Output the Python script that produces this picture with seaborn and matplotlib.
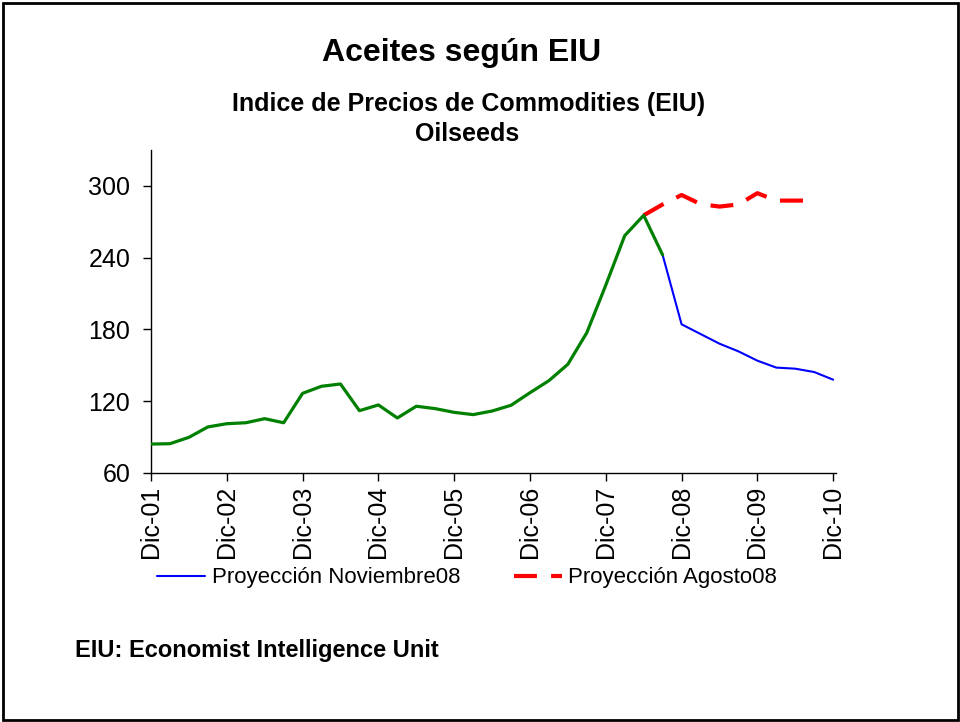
import numpy as np
import pandas as pd
import matplotlib
matplotlib.use("Agg")
import matplotlib.pyplot as plt
from matplotlib.lines import Line2D
from matplotlib.patches import Rectangle
import seaborn as sns

# quarterly index, Dic-01 = 0 ... Dic-10 = 36
tick_labels = ["Dic-01", "Dic-02", "Dic-03", "Dic-04", "Dic-05",
               "Dic-06", "Dic-07", "Dic-08", "Dic-09", "Dic-10"]

# history Dic-01 .. Sep-08
historia = [84.2, 84.5, 89.8, 98.5, 101.2, 102.0, 105.4, 102.0,
            126.6, 132.5, 134.4, 112.1, 116.9, 106.0, 115.8, 113.8,
            110.7, 108.8, 111.8, 116.6, 127.1, 137.2, 150.9, 177.3,
            217.0, 258.4, 275.4, 242.3]
# Proyeccion Noviembre08: Sep-08 .. Dic-10
proy_nov = [242.3, 184.3, 176.2, 168.1, 161.7, 153.9, 148.1, 147.2,
            144.4, 138.0]
# Proyeccion Agosto08: Jun-08 .. Sep-10
proy_ago = [275.4, 284.5, 292.4, 284.8, 282.7, 284.5, 293.9, 287.7,
            287.7, 287.7]

df_hist = pd.DataFrame({"q": np.arange(len(historia)), "valor": historia})
df_nov = pd.DataFrame({"q": np.arange(27, 27 + len(proy_nov)), "valor": proy_nov})
df_ago = pd.DataFrame({"q": np.arange(26, 26 + len(proy_ago)), "valor": proy_ago})

sns.set_style("ticks")
plt.rcParams["font.family"] = ["Liberation Sans", "DejaVu Sans"]
plt.rcParams["text.color"] = "black"
plt.rcParams["axes.labelcolor"] = "black"

fig = plt.figure(figsize=(9.6, 7.22), dpi=100)
ax = fig.add_axes([151 / 960, 1 - 473 / 722, (836 - 151) / 960, (473 - 150) / 722])

sns.lineplot(x="q", y="valor", data=df_ago, ax=ax, color="#ff0000",
             linewidth=3.0, zorder=2)
ax.lines[-1].set_dashes((5.5, 3.4))
sns.lineplot(x="q", y="valor", data=df_nov, ax=ax, color="#0000ff",
             linewidth=1.5, zorder=3)
sns.lineplot(x="q", y="valor", data=df_hist, ax=ax, color="#008000",
             linewidth=2.3, zorder=4)

ax.set_xlim(0, 36.15)
ax.set_ylim(60, 330)
ax.set_yticks([60, 120, 180, 240, 300])
ax.set_xticks(np.arange(0, 37, 4))
ax.set_xticklabels(tick_labels, rotation=90)
ax.tick_params(axis="both", labelsize=18, colors="black", length=6,
               width=1, direction="out")
ax.tick_params(axis="y", pad=9)
ax.tick_params(axis="x", pad=3)
ax.set_xlabel("")
ax.set_ylabel("")
for s in ["top", "right"]:
    ax.spines[s].set_visible(False)
for s in ["left", "bottom"]:
    ax.spines[s].set_color("black")
    ax.spines[s].set_linewidth(1)

handles = [
    Line2D([], [], color="#0000ff", linewidth=1.5),
    Line2D([], [], color="#ff0000", linewidth=3.0, dashes=(5.5, 3.4)),
]
fig.legend(handles, ["Proyección Noviembre08", "Proyección Agosto08"],
           loc="center left", bbox_to_anchor=(157 / 960, 1 - 578 / 722),
           ncol=2, frameon=False, fontsize=16, handlelength=2.16,
           handletextpad=0.3, columnspacing=2.4, borderpad=0,
           borderaxespad=0)

fig.text(462 / 960, 1 - 53 / 722, "Aceites según EIU", ha="center",
         va="center", fontsize=23, fontweight="bold")
fig.text(469 / 960, 1 - 104 / 722, "Indice de Precios de Commodities (EIU)",
         ha="center", va="center", fontsize=18, fontweight="bold")
fig.text(467 / 960, 1 - 134 / 722, "Oilseeds", ha="center", va="center",
         fontsize=18, fontweight="bold")
fig.text(75 / 960, 1 - 651 / 722, "EIU: Economist Intelligence Unit",
         ha="left", va="center", fontsize=17, fontweight="bold")

fig.patches.append(Rectangle((2.5 / 960, 2.5 / 722), 955 / 960, 717 / 722,
                             transform=fig.transFigure, fill=False,
                             edgecolor="black", linewidth=2))

fig.savefig("out.png", dpi=100)
